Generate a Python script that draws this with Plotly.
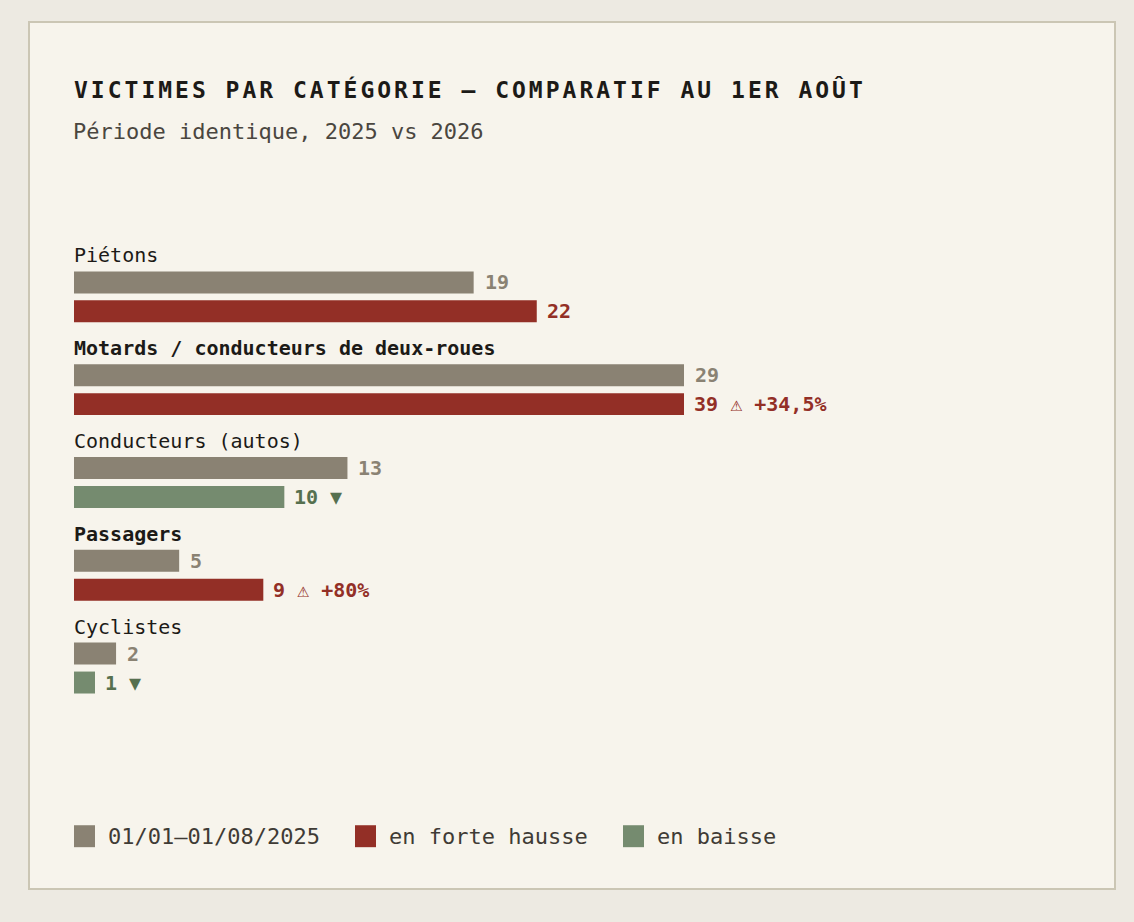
import plotly.graph_objects as go

# ---------------- data ----------------
categories = ["Piétons", "Motards / conducteurs de deux-roues", "Conducteurs (autos)", "Passagers", "Cyclistes"]
victims_2025 = [19, 29, 13, 5, 2]
victims_2026 = [22, 39, 10, 9, 1]
legend_labels = ["01/01–01/08/2025", "en forte hausse", "en baisse"]
title_text = "VICTIMES PAR CATÉGORIE — COMPARATIF AU 1ER AOÛT"
subtitle_text = "Période identique, 2025 vs 2026"
alert_threshold = 30  # % rise flagged with ⚠

# ---------------- style ----------------
FONT = "DejaVu Sans Mono"
PAGE_BG = "#edeae2"
CARD_BG = "#f7f4ec"
CARD_LINE = "#cbc6b4"
GRAY = "#8a8273"
RED = "#932f26"
GREEN = "#758b6f"
GREEN_TXT = "#56704f"
INK = "#1c1a17"
SUB = "#4a463f"

W, H = 1134, 922
L, R, T, B = 74, 450, 235.5, 221.5
PW, PH = W - L - R, H - T - B
XMAX = max(victims_2025)  # axis capped at previous-year maximum

def px(x):
    return (x - L) / PW

def py(y):
    return 1 - (y - T) / PH

GROUP = 93.0
BAR_W = 22 / GROUP
OFF_2026 = 29 / GROUP
OFF_LABEL = 27 / GROUP

idx = list(range(len(categories)))
y25 = [i for i in idx]
y26 = [i + OFF_2026 for i in idx]

pct = [(b - a) / a * 100 for a, b in zip(victims_2025, victims_2026)]
colors26 = [RED if b > a else GREEN for a, b in zip(victims_2025, victims_2026)]

fig = go.Figure()
fig.add_trace(go.Bar(x=victims_2025, y=y25, orientation="h", width=BAR_W,
                     marker=dict(color=GRAY, line=dict(width=0)), name=legend_labels[0],
                     showlegend=False, hoverinfo="x"))
fig.add_trace(go.Bar(x=victims_2026, y=y26, orientation="h", width=BAR_W,
                     marker=dict(color=colors26, line=dict(width=0)), name="2026",
                     showlegend=False, hoverinfo="x"))

annotations = []
# category labels
for i, cat in enumerate(categories):
    bold = pct[i] >= alert_threshold
    annotations.append(dict(x=0, y=i - OFF_LABEL, xref="x", yref="y", xanchor="left", yanchor="middle",
                            xshift=-2, text=f"<b>{cat}</b>" if bold else cat, showarrow=False,
                            font=dict(family=FONT, size=20, color=INK)))

def fmt_pct(p):
    s = f"{p:.1f}".replace(".", ",")
    if s.endswith(",0"):
        s = s[:-2]
    return "+" + s + "%"

# value labels
for i in idx:
    a, b = victims_2025[i], victims_2026[i]
    annotations.append(dict(x=min(a, XMAX), y=y25[i], xref="x", yref="y", xanchor="left", yanchor="middle",
                            xshift=9, text=f"<b>{a}</b>", showarrow=False,
                            font=dict(family=FONT, size=20, color=GRAY)))
    if b < a:
        txt, col = f"<b>{b} ▼</b>", GREEN_TXT
    elif pct[i] >= alert_threshold:
        txt, col = f"<b>{b}</b> ⚠ <b>{fmt_pct(pct[i])}</b>", RED
    else:
        txt, col = f"<b>{b}</b>", RED
    annotations.append(dict(x=min(b, XMAX), y=y26[i], xref="x", yref="y", xanchor="left", yanchor="middle",
                            xshift=8, text=txt, showarrow=False,
                            font=dict(family=FONT, size=20, color=col)))

# subtitle
annotations.append(dict(x=px(74), y=py(131), xref="paper", yref="paper", xanchor="left", yanchor="middle",
                        xshift=-3, text=subtitle_text, showarrow=False,
                        font=dict(family=FONT, size=22, color=SUB)))

shapes = [dict(type="rect", xref="paper", yref="paper", x0=px(29), x1=px(1115), y0=py(21), y1=py(890),
               fillcolor=CARD_BG, line=dict(color=CARD_LINE, width=2), layer="below")]

# legend
leg_colors = [GRAY, RED, GREEN]
leg_sq_x = [74, 355, 623]
for lab, col, sx in zip(legend_labels, leg_colors, leg_sq_x):
    shapes.append(dict(type="rect", xref="paper", yref="paper", x0=px(sx), x1=px(sx + 21),
                       y0=py(848), y1=py(826), fillcolor=col, line=dict(width=0)))
    annotations.append(dict(x=px(sx + 33), y=py(837), xref="paper", yref="paper", xanchor="left",
                            yanchor="middle", xshift=-1, text=lab, showarrow=False,
                            font=dict(family=FONT, size=22, color="#3f3b35")))

fig.update_layout(
    width=W, height=H,
    margin=dict(l=L, r=R, t=T, b=B, pad=0),
    paper_bgcolor=PAGE_BG, plot_bgcolor="rgba(0,0,0,0)",
    barmode="overlay",
    title=dict(text=f"<b>{title_text}</b>", x=74 / W, y=1 - 90 / H, xref="container", yref="container",
               xanchor="left", yanchor="middle", font=dict(family=FONT, size=23, color=INK)),
    xaxis=dict(range=[0, XMAX], showgrid=False, zeroline=False, showticklabels=False, showline=False,
               fixedrange=True),
    yaxis=dict(range=[len(categories) - 0.5, -0.5], showgrid=False, zeroline=False, showticklabels=False,
               showline=False, fixedrange=True),
    annotations=annotations, shapes=shapes, showlegend=False,
)

post = ("document.body.style.margin='0';"
        "document.querySelectorAll('.gtitle').forEach(function(t){t.style.letterSpacing='3px';});")
fig.write_html("out.html", post_script=post, config={"displayModeBar": False})
